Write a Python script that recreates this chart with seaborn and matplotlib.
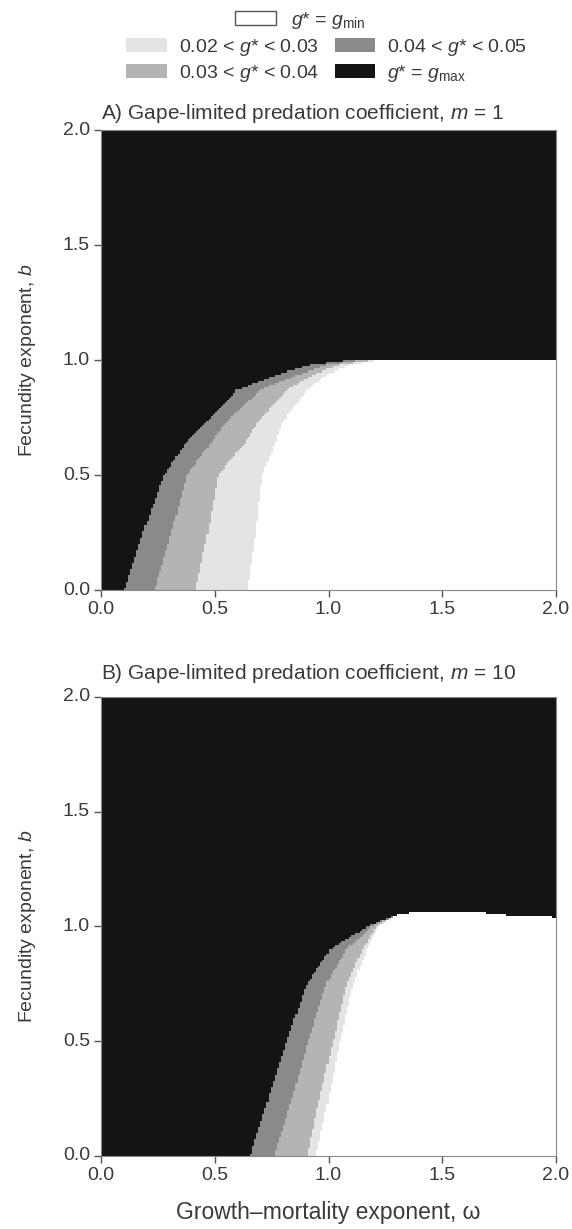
import numpy as np
import matplotlib
matplotlib.use("Agg")
import matplotlib.pyplot as plt
import seaborn as sns
from matplotlib.colors import ListedColormap
from matplotlib.patches import Patch

# tick values
omega_ticks = [0.0, 0.5, 1.0, 1.5, 2.0]
b_ticks = [0.0, 0.5, 1.0, 1.5, 2.0]

# band edges: omega where each band ends, at several b
# panel A (m = 1)
a_b = [0.0, 0.25, 0.5, 0.65, 0.725, 0.87, 0.94, 0.978, 1.0]
a_gmax = [0.10, 0.185, 0.277, 0.38, 0.457, 0.597, 0.787, 0.92, 1.10]
a_045 = [0.235, 0.31, 0.377, 0.49, 0.545, 0.70, 0.875, 0.99, 1.15]
a_034 = [0.415, 0.47, 0.515, 0.64, 0.685, 0.816, 0.94, 1.05, 1.20]
a_023 = [0.644, 0.68, 0.71, 0.77, 0.795, 0.905, 1.0, 1.095, 1.23]
a_top_omega = [0.0, 2.0]
a_top_b = [1.0, 1.0]

# panel B (m = 10)
b_b = [0.0, 0.25, 0.5, 0.75, 0.9, 1.0, 1.05, 1.07]
b_gmax = [0.655, 0.735, 0.816, 0.905, 1.007, 1.17, 1.30, 1.38]
b_045 = [0.76, 0.84, 0.91, 0.99, 1.08, 1.19, 1.30, 1.38]
b_034 = [0.905, 0.96, 1.02, 1.08, 1.15, 1.21, 1.30, 1.38]
b_023 = [0.945, 1.0, 1.05, 1.11, 1.17, 1.22, 1.30, 1.38]
b_top_omega = [1.3, 1.4, 1.6, 1.7, 1.8, 2.0]
b_top_b = [1.05, 1.066, 1.066, 1.058, 1.048, 1.04]

labels = [r"$g$* = $g_{\rm min}$", r"0.02 < $g$* < 0.03", r"0.03 < $g$* < 0.04",
          r"0.04 < $g$* < 0.05", r"$g$* = $g_{\rm max}$"]
colors = ["#ffffff", "#e4e4e4", "#b4b4b4", "#8a8a8a", "#141414"]

N = 220


def build_grid(bl, e4, e3, e2, e1, top_w, top_b):
    # category 0 = gmin ... 4 = gmax
    c = (np.arange(N) + 0.5) * 2.0 / N
    W, B = np.meshgrid(c, c)
    w4 = np.interp(B, bl, e4)
    w3 = np.interp(B, bl, e3)
    w2 = np.interp(B, bl, e2)
    w1 = np.interp(B, bl, e1)
    g = np.zeros_like(W, dtype=int)
    g[W < w1] = 1
    g[W < w2] = 2
    g[W < w3] = 3
    g[W < w4] = 4
    g[B > np.interp(W, top_w, top_b)] = 4
    return g


sns.set_style("ticks")
plt.rcParams["font.family"] = ["Liberation Sans", "DejaVu Sans"]
plt.rcParams["mathtext.fontset"] = "custom"
plt.rcParams["mathtext.rm"] = "Liberation Sans"
plt.rcParams["mathtext.it"] = "Liberation Sans:italic"
txt = "#3a3a3a"

fig = plt.figure(figsize=(5.72, 12.29), dpi=100)
axA = fig.add_axes([0.1766, 0.5199, 0.7955, 0.3743])
axB = fig.add_axes([0.1766, 0.0594, 0.7955, 0.3735])

gridA = build_grid(a_b, a_gmax, a_045, a_034, a_023, a_top_omega, a_top_b)
gridB = build_grid(b_b, b_gmax, b_045, b_034, b_023, b_top_omega, b_top_b)
cmap = ListedColormap(colors)

for ax, grid in [(axA, gridA), (axB, gridB)]:
    sns.heatmap(np.flipud(grid), ax=ax, cmap=cmap, vmin=-0.5, vmax=4.5,
                cbar=False, square=False, rasterized=True)
    ax.set_xticks(np.array(omega_ticks) / 2.0 * N)
    ax.set_xticklabels([f"{v:.1f}" for v in omega_ticks], rotation=0)
    ax.set_yticks(N - np.array(b_ticks) / 2.0 * N)
    ax.set_yticklabels([f"{v:.1f}" for v in b_ticks], rotation=0)
    for s in ax.spines.values():
        s.set_visible(True)
        s.set_color("#888888")
        s.set_linewidth(0.8)
    ax.tick_params(length=5, width=1, color="#555555", labelsize=14,
                   labelcolor=txt, pad=3)
    ax.set_ylabel("Fecundity exponent, $b$", fontsize=14, color=txt, labelpad=18)
    ax.set_xlabel("")

axB.set_xlabel("Growth\u2013mortality exponent, \u03c9", fontsize=16.5,
               color=txt, labelpad=12)
axA.set_title("A) Gape-limited predation coefficient, $m$ = 1", loc="left",
              fontsize=15, color=txt, pad=8)
axB.set_title("B) Gape-limited predation coefficient, $m$ = 10", loc="left",
              fontsize=15, color=txt, pad=13)

h0 = [Patch(facecolor=colors[0], edgecolor="#555555", linewidth=1)]
fig.legend(h0, [labels[0]], loc="center", bbox_to_anchor=(0.525, 0.9837),
           frameon=False, fontsize=14, handlelength=2.1, handleheight=0.75,
           handletextpad=0.8, borderpad=0, labelcolor=txt)
order = [1, 2, 3, 4]
h1 = [Patch(facecolor=colors[i], edgecolor="none") for i in order]
fig.legend(h1, [labels[i] for i in order], loc="center", ncol=2,
           bbox_to_anchor=(0.571, 0.951), frameon=False, fontsize=14,
           handlelength=2.1, handleheight=0.75, handletextpad=0.6,
           columnspacing=0.8, labelspacing=0.25, borderpad=0, labelcolor=txt)

fig.savefig("out.png", dpi=100)
